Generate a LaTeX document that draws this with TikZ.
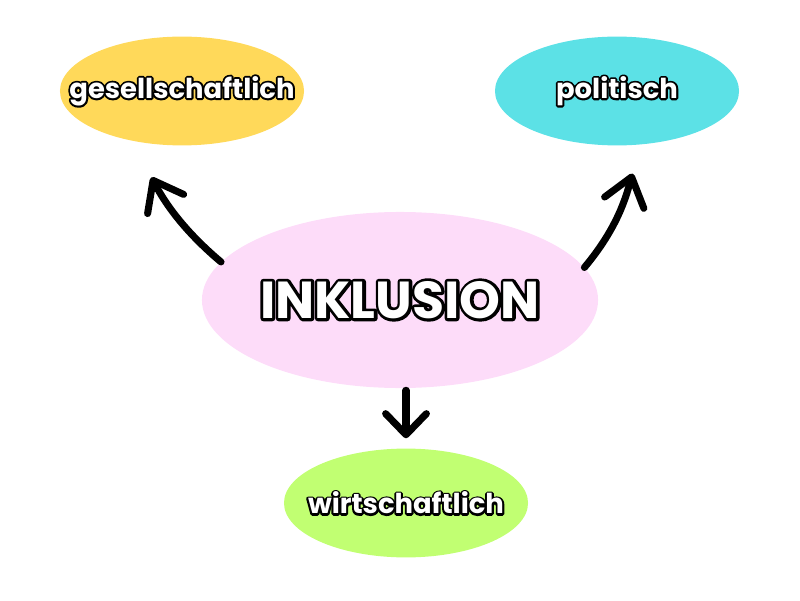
\documentclass[tikz,border=0pt]{standalone}
\usepackage{fontspec}
\setmainfont{Poppins}
\usetikzlibrary{shapes.geometric, arrows.meta}
\definecolor{gelb}{HTML}{FFD95A}
\definecolor{tuerkis}{HTML}{5CE1E6}
\definecolor{rosa}{HTML}{FDDCF9}
\definecolor{hellgruen}{HTML}{C1FF72}
% white letters with a black outline
\newcommand{\umriss}[2]{\rlap{\color{black}\special{pdf:literal 2 Tr #1 w 1 j}#2\special{pdf:literal 0 Tr}}#2}

\begin{document}
\begin{tikzpicture}[x=0.025cm, y=0.025cm,
    blob/.style={ellipse, inner sep=0pt, minimum width=6.1cm, minimum height=2.72cm},
    tag/.style={text=white, font=\bfseries\fontsize{19.5}{23}\selectfont},
    arr/.style={line width=5pt, line cap=round,
      -{Straight Barb[round, length=19pt, width=29pt]}}]
    \useasboundingbox (0, 0) rectangle (800, 600);

    % the four ellipses
    \node[blob, fill=gelb, label={[tag]center:\umriss{2.8}{gesellschaftlich}}]
      (ges) at (182, 509) {};
    \node[blob, fill=tuerkis, label={[tag]center:\umriss{2.8}{politisch}}]
      (pol) at (617, 509) {};
    \node[blob, fill=hellgruen, label={[tag]center:\umriss{2.8}{wirtschaftlich}}]
      (wirt) at (406, 97) {};
    \node[blob, fill=rosa, minimum width=9.9cm, minimum height=4.4cm,
      label={[tag, font=\bfseries\fontsize{37}{42}\selectfont]center:\umriss{4.2}{INKLUSION}}]
      (inkl) at (400, 300) {};

    % arrows
    \draw[arr, shorten >=41\pgflinewidth/7] (inkl.168) to[out=140, in=-62] (ges.225);
    \draw[arr, shorten >=30\pgflinewidth/7] (inkl.10) to[out=50, in=-106] (pol.294);
    \draw[arr, -{Straight Barb[round, length=15pt, width=29pt]},
      shorten <=2\pgflinewidth/7, shorten >=10\pgflinewidth/7]
      (wirt.north |- inkl.south) -- (wirt.north);
  \end{tikzpicture}
\end{document}
